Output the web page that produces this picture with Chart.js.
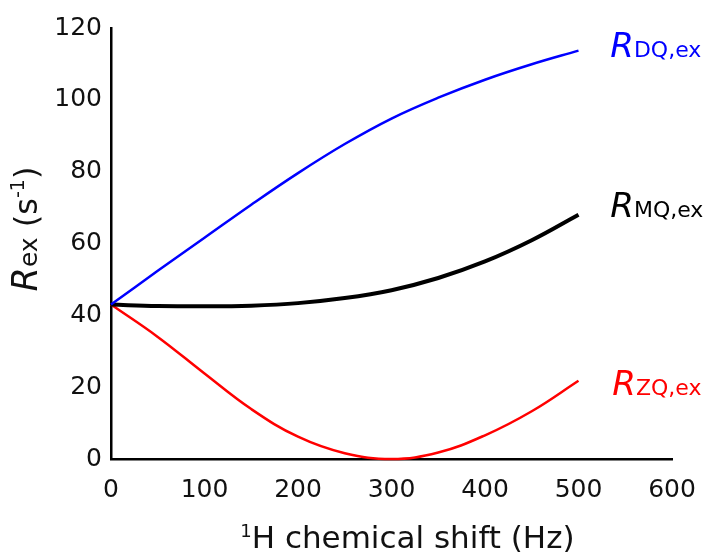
<!DOCTYPE html>
<html>
<head>
<meta charset="utf-8">
<script src="https://cdn.jsdelivr.net/npm/chart.js@4.4.1/dist/chart.umd.min.js"></script>
<style>
  html, body { margin: 0; padding: 0; background: #fff; }
  #wrap { width: 708px; height: 556px; }
</style>
</head>
<body>
<div id="wrap"><canvas id="c" width="708" height="556"></canvas></div>
<script>
// 1H chemical shift (Hz) sampled along the curves
const shiftHz = [0, 50, 100, 150, 200, 250, 300, 350, 400, 450, 500];
// exchange contributions (s^-1)
const rDQ = [43, 52.4, 61.6, 70.8, 79.6, 87.7, 94.8, 100.6, 105.6, 109.9, 113.7];
const rMQ = [43, 42.6, 42.5, 42.7, 43.4, 44.8, 47.0, 50.4, 55.0, 60.9, 68];
const rZQ = [43, 34, 23.8, 13.9, 6.2, 1.6, 0, 1.8, 6.6, 13.3, 21.8];

const xTicks = [0, 100, 200, 300, 400, 500, 600];
const yTicks = [0, 20, 40, 60, 80, 100, 120];

const FONT = '"DejaVu Sans", Verdana, sans-serif';

function pts(ys) { return shiftHz.map((x, i) => ({ x: x, y: ys[i] })); }

// draw a run of text pieces with their own font and vertical shift
function drawRich(ctx, parts, x, y, color, centered) {
  ctx.save();
  ctx.fillStyle = color;
  ctx.textBaseline = 'alphabetic';
  ctx.textAlign = 'left';
  let total = 0;
  parts.forEach(p => { ctx.font = p.font; total += ctx.measureText(p.text).width; });
  let cx = centered ? x - total / 2 : x;
  parts.forEach(p => {
    ctx.font = p.font;
    ctx.fillText(p.text, cx, y + (p.dy || 0));
    cx += ctx.measureText(p.text).width;
  });
  ctx.restore();
}

const curveLabels = {
  id: 'curveLabels',
  afterDraw(chart) {
    const ctx = chart.ctx;
    const xs = chart.scales.x, ys = chart.scales.y;
    const lx = xs.getPixelForValue(534);
    const big = 'italic 34px ' + FONT;
    const sub = '22px ' + FONT;
    drawRich(ctx, [{ text: 'R', font: big }, { text: 'DQ,ex', font: sub }], lx, ys.getPixelForValue(112), '#0000ff');
    drawRich(ctx, [{ text: 'R', font: big }, { text: 'MQ,ex', font: sub }], lx, ys.getPixelForValue(67.4), '#000000');
    drawRich(ctx, [{ text: 'R', font: big }, { text: 'ZQ,ex', font: sub }], lx + 2, ys.getPixelForValue(17.8), '#ff0000');

    // x axis title
    drawRich(ctx, [
      { text: '1', font: '18px ' + FONT, dy: -11 },
      { text: 'H chemical shift (Hz)', font: '31px ' + FONT }
    ], xs.getPixelForValue(317), 548, '#111', true);

    // y axis title, rotated
    ctx.save();
    ctx.translate(37, 229);
    ctx.rotate(-Math.PI / 2);
    drawRich(ctx, [
      { text: 'R', font: 'italic 35px ' + FONT },
      { text: 'ex', font: '25px ' + FONT },
      { text: ' (s', font: '32px ' + FONT },
      { text: '-1', font: '19px ' + FONT, dy: -13 },
      { text: ')', font: '32px ' + FONT }
    ], 0, 0, '#111', true);
    ctx.restore();
  }
};

new Chart(document.getElementById('c'), {
  type: 'line',
  data: {
    datasets: [
      { label: 'R DQ,ex', data: pts(rDQ), borderColor: '#0000ff', borderWidth: 2.5 },
      { label: 'R MQ,ex', data: pts(rMQ), borderColor: '#000000', borderWidth: 4 },
      { label: 'R ZQ,ex', data: pts(rZQ), borderColor: '#ff0000', borderWidth: 2.5 }
    ].map(d => Object.assign(d, {
      pointRadius: 0,
      fill: false,
      tension: 0.4,
      clip: false
    }))
  },
  options: {
    responsive: false,
    animation: false,
    devicePixelRatio: 1,
    layout: { padding: { top: 28, right: 36, left: 0, bottom: 0 } },
    plugins: { legend: { display: false }, tooltip: { enabled: false } },
    scales: {
      x: {
        type: 'linear',
        min: 0, max: 600,
        afterBuildTicks: s => { s.ticks = xTicks.map(v => ({ value: v })); },
        afterFit: s => { s.height = 97; s.paddingLeft = 0; s.paddingRight = 0; },
        grid: { display: false, drawTicks: false, tickLength: 0 },
        border: { display: true, color: '#000', width: 2.5 },
        ticks: { color: '#111', font: { family: FONT, size: 25 }, padding: 16, maxRotation: 0 }
      },
      y: {
        type: 'linear',
        min: 0, max: 120,
        afterBuildTicks: s => { s.ticks = yTicks.map(v => ({ value: v })); },
        afterFit: s => { s.width = 111; },
        grid: { display: false, drawTicks: false, tickLength: 0 },
        border: { display: true, color: '#000', width: 2.5 },
        ticks: { color: '#111', font: { family: FONT, size: 25 }, padding: 9 }
      }
    }
  },
  plugins: [curveLabels]
});
</script>
</body>
</html>
